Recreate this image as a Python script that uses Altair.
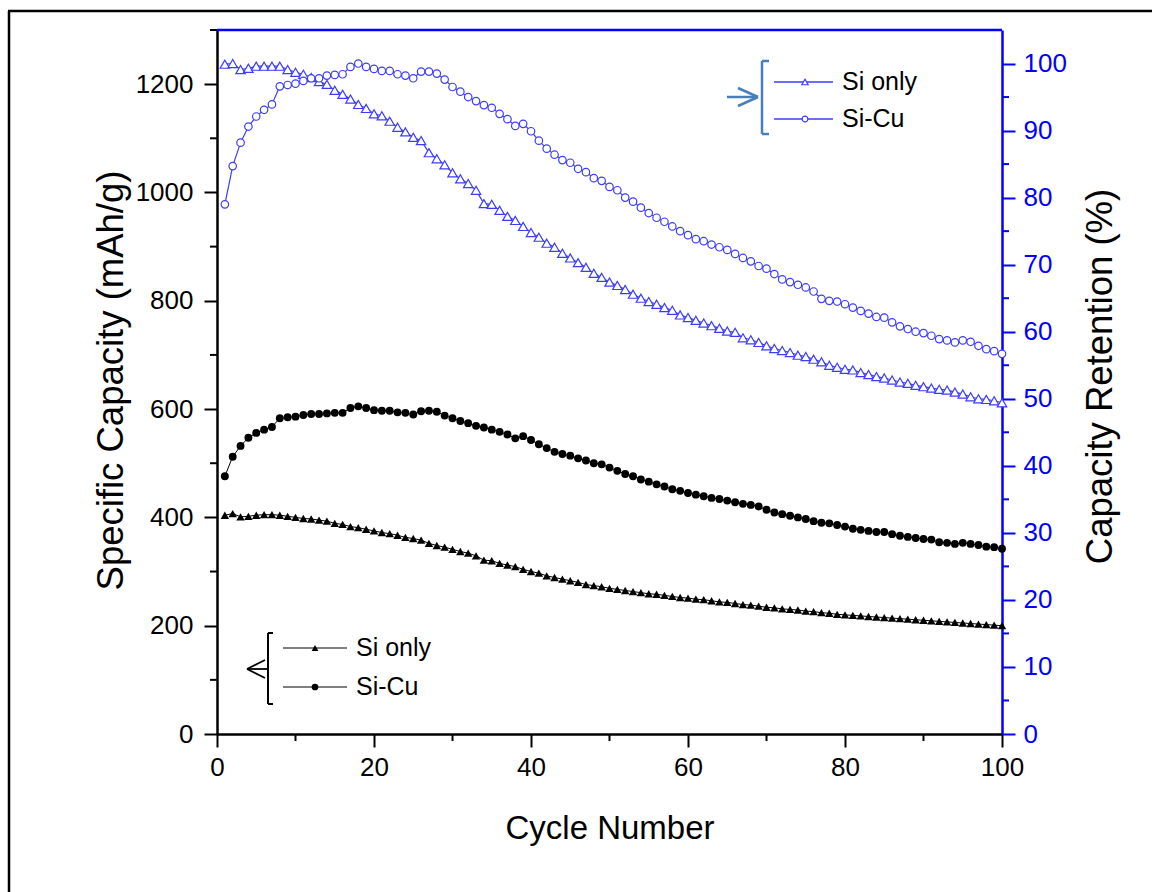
import altair as alt
import pandas as pd

F = "Liberation Sans, Arial, Helvetica, sans-serif"
BLUE = "#0000ff"
MBLUE = "#3c3cff"
LEG_BLUE = "#4a7ebb"

cycles = list(range(1, 101))

si_only_cap = [404, 407, 401, 402, 404, 405, 405, 404, 402, 400,
               398, 397, 395, 393, 389, 387, 383, 381, 378, 375,
               372, 370, 367, 363, 361, 358, 352, 348, 345, 341,
               337, 334, 329, 321, 320, 315, 312, 309, 304, 300,
               297, 292, 289, 286, 283, 280, 276, 274,
               272, 269, 267, 265, 263, 261, 259, 258, 256, 254,
               252, 251, 249, 248, 246, 244, 243, 241, 239, 238,
               236, 234, 233, 231, 230, 229, 227, 226, 224, 223,
               221, 220, 219, 218, 217, 216, 215, 214, 213, 212,
               211, 210, 209, 208, 207, 206, 205, 204, 203, 202,
               201, 200]

si_cu_cap = [476, 512, 532, 547, 556, 562, 567, 583, 585, 586,
             589, 591, 591, 592, 593, 593, 602, 605, 602, 598,
             597, 597, 594, 593, 590, 596, 597, 595, 588, 583,
             578, 574, 569, 566, 562, 558, 553, 546, 550, 543,
             535, 528, 521, 517, 514, 509, 505, 500,
             498, 492, 486, 480, 476, 470, 466, 461, 457, 452,
             449, 445, 442, 439, 436, 434, 431, 428, 425, 423,
             420, 414, 409, 406, 403, 400, 397, 393, 390, 389,
             386, 383, 379, 377, 375, 373, 373, 369, 366, 364,
             362, 360, 359, 354, 353, 351, 353, 351, 349, 346,
             345, 342]

si_only_ret = [99.9, 100.0, 99.1, 99.3, 99.6, 99.6, 99.6, 99.6, 99.1, 98.7,
               98.4, 97.9, 97.3, 96.9, 96.0, 95.4, 94.7, 93.9, 93.3, 92.5,
               92.2, 91.4, 90.5, 89.8, 89.0, 88.5, 86.7, 85.8, 84.9, 83.7,
               82.8, 82.1, 81.1, 79.1, 79.0, 78.1, 77.2, 76.6, 75.7, 74.8,
               74.1, 73.2, 72.6, 71.7, 71.0, 70.3, 69.6, 68.7,
               68.1, 67.4, 66.9, 66.3, 65.6, 65.0, 64.5, 64.1, 63.6, 63.2,
               62.5, 62.1, 61.7, 61.3, 60.9, 60.5, 60.1, 59.9, 59.1, 58.8,
               58.4, 57.9, 57.5, 57.2, 56.9, 56.5, 56.3, 55.9, 55.5, 55.0,
               54.7, 54.4, 54.3, 53.9, 53.6, 53.3, 53.1, 52.8, 52.5, 52.3,
               52.0, 51.8, 51.6, 51.4, 51.3, 51.0, 50.7, 50.3, 50.0, 49.9,
               49.7, 49.4]

si_cu_ret = [79.0, 84.7, 88.2, 90.6, 92.1, 93.1, 93.9, 96.6, 96.8, 97.0,
             97.4, 97.8, 97.8, 98.2, 98.3, 98.4, 99.5, 100.0, 99.5, 99.2,
             98.9, 98.9, 98.4, 98.2, 97.8, 98.8, 98.8, 98.5, 97.6, 96.5,
             95.8, 95.0, 94.4, 93.8, 93.4, 92.5, 91.7, 90.7, 91.0, 89.9,
             88.5, 87.3, 86.4, 85.6, 85.2, 84.3, 83.8, 82.9,
             82.5, 81.6, 81.1, 80.0, 79.4, 78.5, 77.7, 77.0, 76.4, 75.7,
             75.0, 74.4, 73.8, 73.5, 73.0, 72.6, 72.2, 71.6, 71.0, 70.5,
             69.8, 69.4, 68.6, 67.8, 67.4, 67.0, 66.6, 66.0, 64.9, 64.6,
             64.5, 64.1, 63.6, 63.1, 62.7, 62.2, 62.1, 61.4, 60.8, 60.4,
             60.0, 59.8, 59.4, 58.9, 58.7, 58.4, 58.7, 58.5, 57.9, 57.4,
             57.1, 56.7]

x_major = [0, 20, 40, 60, 80, 100]
x_minor = [10, 30, 50, 70, 90]
cap_major = [0, 200, 400, 600, 800, 1000, 1200]
cap_minor = [100, 300, 500, 700, 900, 1100, 1300]
ret_major = [0, 10, 20, 30, 40, 50, 60, 70, 80, 90, 100]
ret_minor = [5, 15, 25, 35, 45, 55, 65, 75, 85, 95]

W, H = 785, 704
LBL = 26

rows = []
for i, c in enumerate(cycles):
    rows.append({"cycle": c, "series": "Si only", "cap": si_only_cap[i], "ret": si_only_ret[i]})
    rows.append({"cycle": c, "series": "Si-Cu", "cap": si_cu_cap[i], "ret": si_cu_ret[i]})
df = pd.DataFrame(rows)
df_tri = df[df.series == "Si only"]
df_cir = df[df.series == "Si-Cu"]

xscale = alt.Scale(domain=[0, 100], nice=False, zero=False)
capscale = alt.Scale(domain=[0, 1300], nice=False)
retscale = alt.Scale(domain=[0, 105], nice=False)

xaxis = alt.Axis(values=x_major, format="d", tickSize=13, tickWidth=2, tickColor="black",
                 domainColor="black", domainWidth=2.5, labelFontSize=LBL, labelFont=F,
                 labelColor="black", labelPadding=7, labelFlush=False, labelOverlap=False,
                 grid=False, title="Cycle Number", titleFontSize=33, titleFont=F,
                 titleFontWeight="normal", titleColor="black", titleX=392.5, titleY=94,
                 titleBaseline="middle", titleAlign="center")
capaxis = alt.Axis(values=cap_major, format="d", tickSize=13, tickWidth=2, tickColor="black",
                   domainColor="black", domainWidth=2.5, labelFontSize=LBL, labelFont=F,
                   labelColor="black", labelPadding=11, labelFlush=False, labelOverlap=False,
                   grid=False, title="Specific Capacity (mAh/g)", titleFontSize=36.5, titleFont=F,
                   titleFontWeight="normal", titleColor="black", titleAngle=270,
                   titleX=-106, titleY=350, titleBaseline="middle", titleAlign="center")
retaxis = alt.Axis(orient="right", values=ret_major, format="d", tickSize=13, tickWidth=2,
                   tickColor=BLUE, domainColor=BLUE, domainWidth=2.5, labelFontSize=LBL,
                   labelFont=F, labelColor=BLUE, labelPadding=8, labelFlush=False,
                   labelOverlap=False, grid=False, title="Capacity Retention (%)",
                   titleFontSize=36.5, titleFont=F, titleFontWeight="normal", titleColor="black",
                   titleAngle=270, titleX=98, titleY=346, titleBaseline="middle",
                   titleAlign="center")


def X(field):
    return alt.X(field, type="quantitative", scale=xscale, axis=xaxis)


def YC(field):
    return alt.Y(field, type="quantitative", scale=capscale, axis=capaxis)


def YR(field):
    return alt.Y(field, type="quantitative", scale=retscale, axis=retaxis)


# ---- left (capacity) layer ----
cap_lines = alt.Chart(df).mark_line(color="black", strokeWidth=1).encode(
    x=X("cycle"), y=YC("cap"), detail="series:N")
cap_tri = alt.Chart(df_tri).mark_point(shape="triangle-up", filled=True, color="black",
                                       size=72, opacity=1).encode(x=X("cycle"), y=YC("cap"))
cap_cir = alt.Chart(df_cir).mark_point(shape="circle", filled=True, color="black",
                                       size=62, opacity=1).encode(x=X("cycle"), y=YC("cap"))
cap_minor_ticks = alt.Chart(pd.DataFrame({"v": cap_minor})).mark_rule(
    color="black", strokeWidth=2).encode(y=YC("v"), x=alt.value(-7), x2=alt.value(0))
x_minor_ticks = alt.Chart(pd.DataFrame({"v": x_minor})).mark_rule(
    color="black", strokeWidth=2).encode(x=X("v"), y=alt.value(H), y2=alt.value(H + 7))

left = alt.layer(cap_minor_ticks, x_minor_ticks, cap_lines, cap_tri, cap_cir)

# ---- right (retention) layer ----
ret_lines = alt.Chart(df).mark_line(color=MBLUE, strokeWidth=1.2).encode(
    x=X("cycle"), y=YR("ret"), detail="series:N")
ret_tri = alt.Chart(df_tri).mark_point(shape="triangle-up", filled=True, fill="white",
                                       stroke=MBLUE, strokeWidth=1.2, size=88, opacity=1).encode(
    x=X("cycle"), y=YR("ret"))
ret_cir = alt.Chart(df_cir).mark_point(shape="circle", filled=True, fill="white",
                                       stroke=MBLUE, strokeWidth=1.2, size=56, opacity=1).encode(
    x=X("cycle"), y=YR("ret"))
ret_minor_ticks = alt.Chart(pd.DataFrame({"v": ret_minor})).mark_rule(
    color=BLUE, strokeWidth=2).encode(y=YR("v"), x=alt.value(W), x2=alt.value(W + 7))

right = alt.layer(ret_minor_ticks, ret_lines, ret_tri, ret_cir)

# ---- decorations (frame, top border, custom legends) ----
ONE = alt.Data(values=[{}])


def seg(x1, y1, x2, y2, color, width):
    return alt.Chart(ONE).mark_rule(color=color, strokeWidth=width).encode(
        x=alt.value(x1), x2=alt.value(x2), y=alt.value(y1), y2=alt.value(y2))


def txt(x, y, s):
    return alt.Chart(ONE).mark_text(align="left", baseline="middle", fontSize=25, font=F,
                                    color="black").encode(
        x=alt.value(x), y=alt.value(y), text=alt.value(s))


def pt(x, y, shape, size, filled, color):
    if filled:
        m = alt.Chart(ONE).mark_point(shape=shape, filled=True, color=color, size=size, opacity=1)
    else:
        m = alt.Chart(ONE).mark_point(shape=shape, filled=True, fill="white", stroke=color,
                                      strokeWidth=1.2, size=size, opacity=1)
    return m.encode(x=alt.value(x), y=alt.value(y))


deco = [
    # outer frame (left and top edges)
    seg(-208, -19, -208, 870, "black", 2.5),
    seg(-209, -19, 940, -19, "black", 2.5),
    # blue top border of plot
    seg(0, 0, W, 0, BLUE, 2.5),
    # top-right legend (retention)
    seg(545, 31, 545, 104, LEG_BLUE, 2.5),
    seg(545, 31, 552, 31, LEG_BLUE, 2.5),
    seg(545, 104, 552, 104, LEG_BLUE, 2.5),
    seg(510, 67, 541, 67, LEG_BLUE, 2.5),
    seg(521, 58, 541, 67, LEG_BLUE, 2.5),
    seg(521, 76, 541, 67, LEG_BLUE, 2.5),
    seg(557, 52, 616, 52, MBLUE, 1.5),
    seg(557, 89, 616, 89, MBLUE, 1.5),
    pt(588, 52, "triangle-up", 40, False, MBLUE),
    pt(588, 89, "circle", 34, False, MBLUE),
    txt(625, 52, "Si only"),
    txt(625, 89, "Si-Cu"),
    # bottom-left legend (capacity)
    seg(51, 603, 51, 674, "black", 2),
    seg(51, 603, 56, 603, "black", 2),
    seg(51, 674, 56, 674, "black", 2),
    seg(30, 639, 51, 639, "black", 1.8),
    seg(30, 639, 48, 630, "black", 1.8),
    seg(30, 639, 48, 648, "black", 1.8),
    seg(66, 618, 130, 618, "#555555", 1.5),
    seg(66, 657, 130, 657, "#555555", 1.5),
    pt(98, 618, "triangle-up", 45, True, "black"),
    pt(98, 657, "circle", 45, True, "black"),
    txt(139, 618, "Si only"),
    txt(139, 657, "Si-Cu"),
]

chart = alt.layer(
    alt.layer(left, right).resolve_scale(y="independent"),
    *deco
).properties(
    width=W, height=H,
    autosize=alt.AutoSizeParams(type="none"),
    padding={"left": 217, "top": 30, "right": 150, "bottom": 158},
    background="white",
).configure_view(stroke=None)

chart.save("out.html", embed_options={"renderer": "svg", "actions": False})
